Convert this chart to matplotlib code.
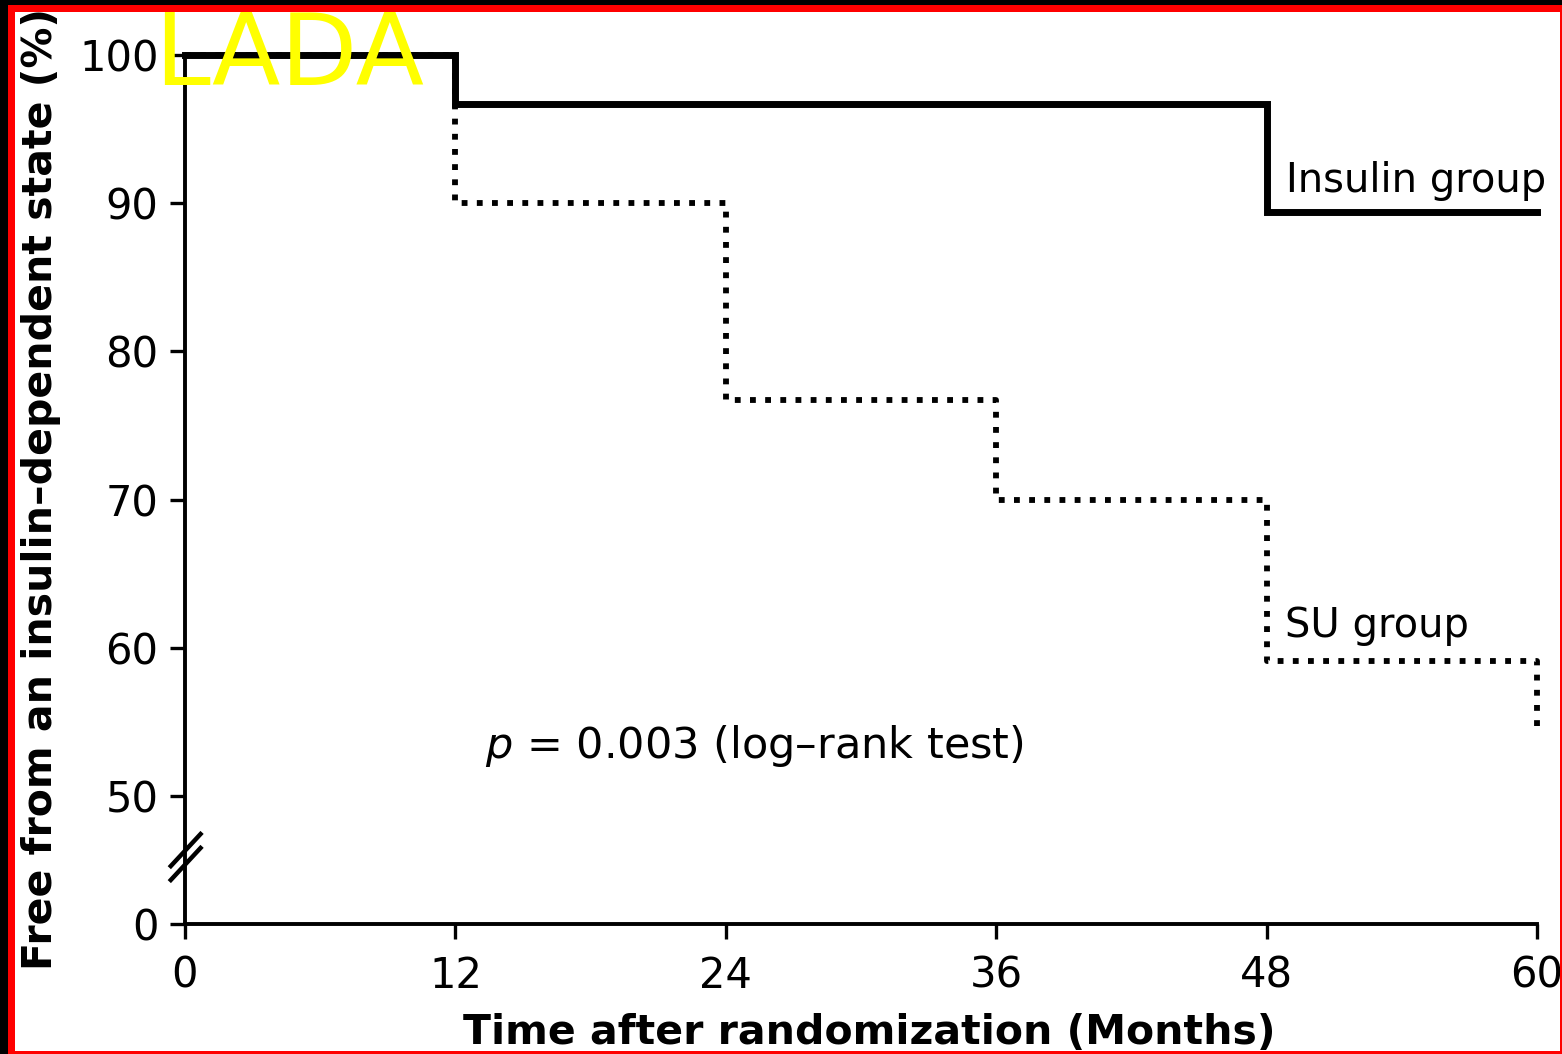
import matplotlib
matplotlib.use("Agg")
import matplotlib.pyplot as plt
from matplotlib.patches import Rectangle

# Kaplan-Meier steps (months, % free from insulin-dependent state)
INS_MONTHS = [0, 12, 48, 60]
INS_FREE = [100, 96.7, 89.4, 89.4]
SU_MONTHS = [0, 12, 24, 36, 48, 60]
SU_FREE = [100, 90, 76.7, 70, 59.1, 54.4]

X_TICKS = [0, 12, 24, 36, 48, 60]
Y_TICKS = [50, 60, 70, 80, 90, 100]
Y_ZERO = 41.36  # where the broken axis puts "0"

W, H = 1562, 1054
DPI = 100


def px_to_fig(x0, y0, x1, y1):
    """Pixel box (top-left origin) to figure fraction rectangle."""
    return (x0 / W, 1 - y1 / H, (x1 - x0) / W, (y1 - y0) / H)


def main():
    fig = plt.figure(figsize=(W / DPI, H / DPI), dpi=DPI, facecolor="white")
    ax = fig.add_axes([185 / W, 1 - 924 / H, (1537 - 185) / W, (924 - 55) / H])

    ax.plot(INS_MONTHS, INS_FREE, drawstyle="steps-post", color="black",
            linewidth=5, solid_joinstyle="miter", clip_on=False, zorder=4)
    ax.plot(SU_MONTHS, SU_FREE, drawstyle="steps-post", color="black",
            linewidth=4.2, linestyle=(0, (1, 1.6)), clip_on=False, zorder=3)

    ax.set_xlim(0, 60)
    ax.set_ylim(Y_ZERO, 100)
    ax.set_xticks(X_TICKS)
    ax.set_yticks([Y_ZERO] + Y_TICKS)
    ax.set_yticklabels(["0"] + [str(v) for v in Y_TICKS])

    for side in ("top", "right"):
        ax.spines[side].set_visible(False)
    for side in ("left", "bottom"):
        ax.spines[side].set_linewidth(2.8)
    ax.tick_params(axis="both", direction="out", length=11, width=2.4,
                   labelsize=30, color="black")
    ax.tick_params(axis="y", pad=8)
    ax.tick_params(axis="x", pad=11)

    # break marks on the y axis between 0 and 50
    ytr = ax.get_yaxis_transform()
    for yc in (46.35, 45.41):
        ax.plot([-0.0105, 0.0115], [yc - 1.08, yc + 1.08], color="black",
                linewidth=3.2, transform=ytr, clip_on=False, zorder=5)

    ax.set_xlabel("Time after randomization (Months)", fontsize=29.5,
                  fontweight="bold")
    ax.set_ylabel("Free from an insulin–dependent state (%)", fontsize=29.5,
                  fontweight="bold")
    ax.xaxis.set_label_coords(0.506, -0.1024)
    ax.yaxis.set_label_coords(-0.0917, 0.5)

    ax.text(48.86, 90.76, "Insulin group", fontsize=28.8, va="baseline",
            ha="left")
    ax.text(48.8, 60.73, "SU group", fontsize=28.8, va="baseline", ha="left")
    ax.text(13.3, 52.56, r"$p$ = 0.003 (log–rank test)", fontsize=31,
            va="baseline", ha="left")

    fig.text(154 / W, 1 - 85 / H, "LADA", fontsize=72, color="#FFFF00",
             ha="left", va="baseline")

    # black margin and red frame
    for box, col in [((0, 0, 8, H), "black"), ((0, 0, W, 5), "black"),
                     ((8, 5, 15, H), "red"), ((8, 5, W, 12), "red"),
                     ((1560, 5, W, H), "red"), ((8, 1051, W, H), "red")]:
        fig.patches.append(Rectangle(px_to_fig(*box)[:2], *px_to_fig(*box)[2:],
                                     transform=fig.transFigure,
                                     facecolor=col, edgecolor="none",
                                     zorder=10))

    fig.savefig("out.png", dpi=DPI)
    plt.close(fig)


if __name__ == "__main__":
    main()
